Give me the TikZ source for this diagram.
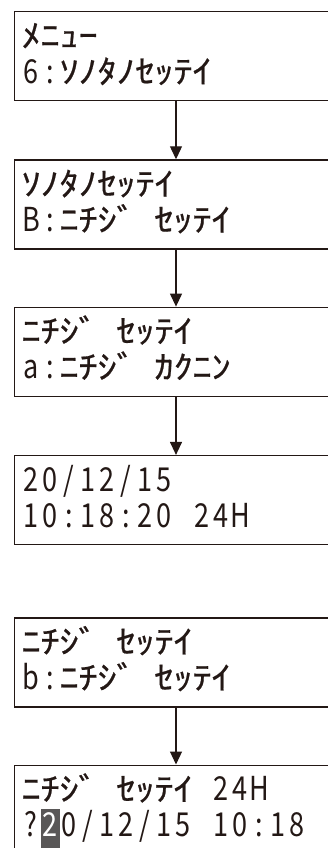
\documentclass[tikz,border=0pt]{standalone}
\usepackage{fontspec}
\usepackage{graphicx}
\newfontfamily\lcdfont{Noto Sans CJK JP}
\newfontfamily\kanafont[FakeBold=0.6]{Noto Sans CJK JP}
\usetikzlibrary{arrows.meta,positioning}
\definecolor{inkblack}{RGB}{35,24,21}
\definecolor{hlgray}{RGB}{89,87,87}

% one fixed cell per character, like the LCD
\newlength\lcdcell
\setlength\lcdcell{19pt}
\newcommand\kanaface{\kanafont\fontsize{32}{36}\selectfont}
\ExplSyntaxOn
\cs_new_protected:Npn \lcd_cell:n #1
  {
    \makebox[\lcdcell][c]
      {
        \smash
          {
            \int_compare:nNnTF { `#1 } > { 127 }
              { \scalebox{1.2}[1]{\kanaface #1} }
              { \scalebox{0.82}[1]{#1} }
          }
      }
  }
\NewDocumentCommand \lcd { m } { \tl_map_function:nN {#1} \lcd_cell:n }
\ExplSyntaxOff
% cursor cell, white on grey
\newcommand\hlcell[1]{\makebox[\lcdcell][l]{\smash{\setlength\fboxsep{0pt}\colorbox{hlgray}{\makebox[\lcdcell][c]{\rule[-16pt]{0pt}{44pt}\textcolor{white}{\scalebox{0.82}[1]{#1}}}}}}}
% two display lines, baselines 35.5pt and 71.5pt below the top
\newcommand\screen[2]{\vbox{\offinterlineskip
  \hbox to 316pt{\rule{0pt}{35.5pt}#1\hfil}
  \hbox to 316pt{\rule[-17.5pt]{0pt}{53.5pt}#2\hfil}}}

\tikzset{
  lcdbox/.style={draw=inkblack, line width=1.3pt, minimum width=330pt, minimum height=89pt,
    inner xsep=7pt, inner ysep=0pt, text=inkblack,
    font=\lcdfont\fontsize{33}{36}\selectfont},
  flow/.style={->, line width=1.2pt, draw=inkblack}
}

\begin{document}
\begin{tikzpicture}[x=1pt, y=-1pt, >={Triangle[width=12pt,length=13pt]}, node distance=58pt]
  \useasboundingbox (0,0) rectangle (328,848);
  \clip (0,0) rectangle (328,848);

  % x of the arrows
  \coordinate (spine) at (176,0);

  % Screens
  \node[lcdbox, anchor=north west] (menu) at (14,11) {\screen{\lcd{ﾒﾆｭｰ}}{\lcd{6:ｿﾉﾀﾉｾｯﾃｲ}}};
  \node[lcdbox, below=of menu] (other) {\screen{\lcd{ｿﾉﾀﾉｾｯﾃｲ}}{\lcd{B:ﾆﾁｼﾞ\ ｾｯﾃｲ}}};
  \node[lcdbox, below=57pt of other] (check) {\screen{\lcd{ﾆﾁｼﾞ\ ｾｯﾃｲ}}{\lcd{a:ﾆﾁｼﾞ\ ｶｸﾆﾝ}}};
  \node[lcdbox, below=of check] (clock) {\screen{\lcd{20/12/15}}{\lcd{10:18:20\ 24H}}};
  \node[lcdbox, below=72pt of clock] (setmenu) {\screen{\lcd{ﾆﾁｼﾞ\ ｾｯﾃｲ}}{\lcd{b:ﾆﾁｼﾞ\ ｾｯﾃｲ}}};
  \node[lcdbox, below=57pt of setmenu] (setinput) {\screen{\lcd{ﾆﾁｼﾞ\ ｾｯﾃｲ\ 24H}}{\lcd{?}\hlcell{2}\lcd{0/12/15\ 10:18}}};

  % Arrows
  \foreach \a/\b in {menu/other, other/check, check/clock, setmenu/setinput}
    \draw[flow] (\a.south -| spine) -- (\b.north -| spine);
\end{tikzpicture}
\end{document}
